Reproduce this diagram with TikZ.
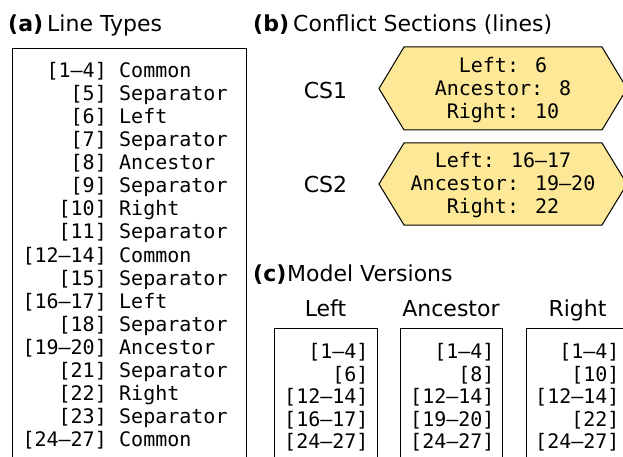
\documentclass[tikz,border=0pt]{standalone}
\usepackage{fontspec}
\setmainfont{DejaVu Sans}
\newfontfamily\monof{DejaVu Sans Mono}
\definecolor{hexyellow}{RGB}{252,232,150}
\begin{document}
\begin{tikzpicture}[x=1pt,y=-1pt,
  title/.style={font=\fontsize{22}{26}\selectfont, anchor=base west, inner sep=0pt},
  tag/.style={font=\fontsize{22}{26}\selectfont\bfseries, anchor=base west, inner sep=0pt},
  mono/.style={font=\fontsize{20}{23}\monof, inner sep=0pt},
  frame/.style={draw=black, line width=1pt},
  hexbox/.style={draw=black, line width=1pt, fill=hexyellow, line join=miter}]
\useasboundingbox (0,0) rectangle (623,457);
\clip (0,0) rectangle (623,457);
% titles
\node[tag] (ta) at (8,31.5) {(a)};
\node[title] (tat) at (47,31.5) {Line Types};
\node[tag] (tb) at (253,31.5) {(b)};
\node[title] (tbt) at (293,31.5) {Conflict Sections (lines)};
\node[tag] (tc) at (253,281.5) {(c)};
\node[title] (tct) at (287,281.5) {Model Versions};
% (a) line types
\draw[frame] (12,48.5) rectangle (246,470);
\foreach \num/\kind [count=\i from 0] in {{[1–4]}/Common, {[5]}/Separator, {[6]}/Left, {[7]}/Separator, {[8]}/Ancestor, {[9]}/Separator, {[10]}/Right, {[11]}/Separator, {[12–14]}/Common, {[15]}/Separator, {[16–17]}/Left, {[18]}/Separator, {[19–20]}/Ancestor, {[21]}/Separator, {[22]}/Right, {[23]}/Separator, {[24–27]}/Common} {
  \node[mono, anchor=base east] (n\i) at (107, 77.3+\i*23.09) {\num};
  \node[mono, anchor=base west] (k\i) at (119, 77.3+\i*23.09) {\kind};
}
% (b) conflict sections
\draw[hexbox] (379,88.5) -- (404,47) -- (602,47) -- (627,88.5) -- (602,130) -- (404,130) -- cycle;
\node[mono, align=center] (cs1text) at (503,90) {Left: 6\\Ancestor: 8\\Right: 10};
\draw[hexbox] (379,184) -- (404,143) -- (602,143) -- (627,184) -- (602,225) -- (404,225) -- cycle;
\node[mono, align=center] (cs2text) at (503,185.5) {Left: 16–17\\Ancestor: 19–20\\Right: 22};
\node[title, anchor=base] (cs1) at (325.5,98.3) {CS1};
\node[title, anchor=base] (cs2) at (325.5,192.7) {CS2};
% (c) model versions
\node[title, anchor=base] (hl) at (325.5,316) {Left};
\node[title, anchor=base] (ha) at (451,316) {Ancestor};
\node[title, anchor=base] (hr) at (577.5,316) {Right};
\draw[frame] (274,328.5) rectangle (377,470);
\draw[frame] (400,328.5) rectangle (502,470);
\draw[frame] (526,328.5) rectangle (629,470);
\foreach \a/\b/\c [count=\i from 0] in {{[1–4]}/{[1–4]}/{[1–4]}, {[6]}/{[8]}/{[10]}, {[12–14]}/{[12–14]}/{[12–14]}, {[16–17]}/{[19–20]}/{[22]}, {[24–27]}/{[24–27]}/{[24–27]}} {
  \node[mono, anchor=base east] (l\i) at (368.7, 358.5+\i*22.5) {\a};
  \node[mono, anchor=base east] (m\i) at (494.7, 358.5+\i*22.5) {\b};
  \node[mono, anchor=base east] (r\i) at (619.7, 358.5+\i*22.5) {\c};
}
\end{tikzpicture}
\end{document}
